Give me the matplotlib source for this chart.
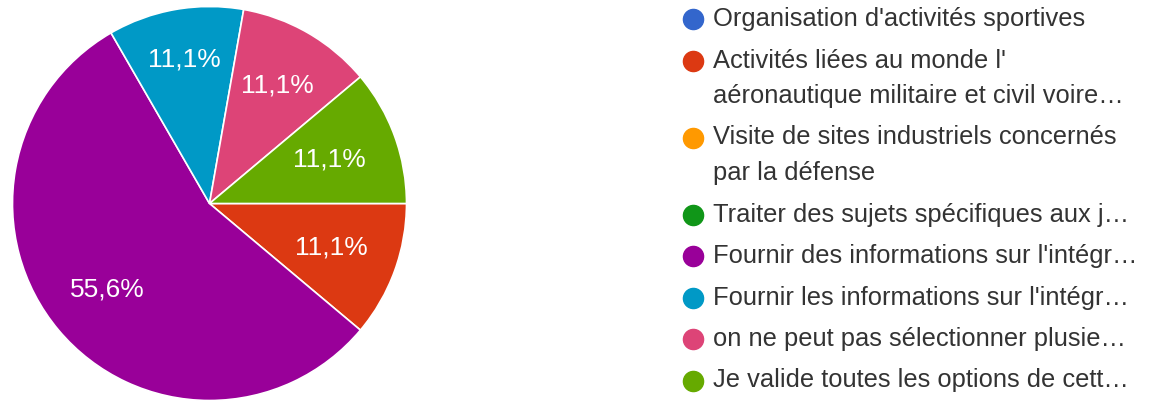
import matplotlib
matplotlib.use("Agg")
import matplotlib.pyplot as plt
import numpy as np
from matplotlib.lines import Line2D

plt.rcParams['font.family'] = ['Liberation Sans', 'DejaVu Sans']

# ---- data ----
labels = [
    "Organisation d'activités sportives",
    "Activités liées au monde l'\naéronautique militaire et civil voire…",
    "Visite de sites industriels concernés\npar la défense",
    "Traiter des sujets spécifiques aux j…",
    "Fournir des informations sur l'intégr…",
    "Fournir les informations sur l'intégr…",
    "on ne peut pas sélectionner plusie…",
    "Je valide toutes les options de cett…",
]
values = [0, 1, 0, 0, 5, 1, 1, 1]
colors = ["#3366cc", "#dc3912", "#ff9900", "#109618",
          "#990099", "#0099c6", "#dd4477", "#66aa00"]
# radial placement of the percentage labels (style only)
label_radius = [0.68, 0.66, 0.68, 0.68, 0.68, 0.74, 0.69, 0.65]

W, H = 1163, 401
fig = plt.figure(figsize=(W / 100, H / 100), dpi=100)
fig.patch.set_facecolor("white")

cx, cy, r = 209.5, 203.5, 197.0
ax = fig.add_axes([(cx - r) / W, (H - cy - r) / H, 2 * r / W, 2 * r / H])

idx = [i for i, v in enumerate(values) if v > 0]
vals = [values[i] for i in idx]
cols = [colors[i] for i in idx]
rads = [label_radius[i] for i in idx]
total = float(sum(vals))

wedges, texts = ax.pie(
    vals, colors=cols, startangle=0, counterclock=False, radius=1.0,
    wedgeprops=dict(edgecolor="white", linewidth=1.2),
)
for w, v, rr in zip(wedges, vals, rads):
    ang = np.deg2rad((w.theta1 + w.theta2) / 2)
    txt = ("%.1f%%" % (100 * v / total)).replace(".", ",")
    ax.text(rr * np.cos(ang), rr * np.sin(ang), txt, color="white",
            fontsize=19, ha="center", va="center")

ax.set_xlim(-1, 1)
ax.set_ylim(-1, 1)
ax.set_aspect("equal")
ax.axis("off")

# ---- legend (manual, marker aligned with first line) ----
marker_x = 693
text_x = 713
first_y = 19
item_step = 41.5
line_step = 35.5
y = first_y
for lab, col in zip(labels, colors):
    lines = lab.split("\n")
    fig.add_artist(Line2D([marker_x / W], [1 - y / H], marker="o",
                          markersize=14.5, color=col, linestyle="none",
                          transform=fig.transFigure))
    for i, ln in enumerate(lines):
        fig.text(text_x / W, 1 - (y + i * line_step) / H, ln,
                 fontsize=18.4, color="#333333", va="center", ha="left")
    y += item_step + (len(lines) - 1) * line_step

fig.savefig("out.png", dpi=100, facecolor="white")
